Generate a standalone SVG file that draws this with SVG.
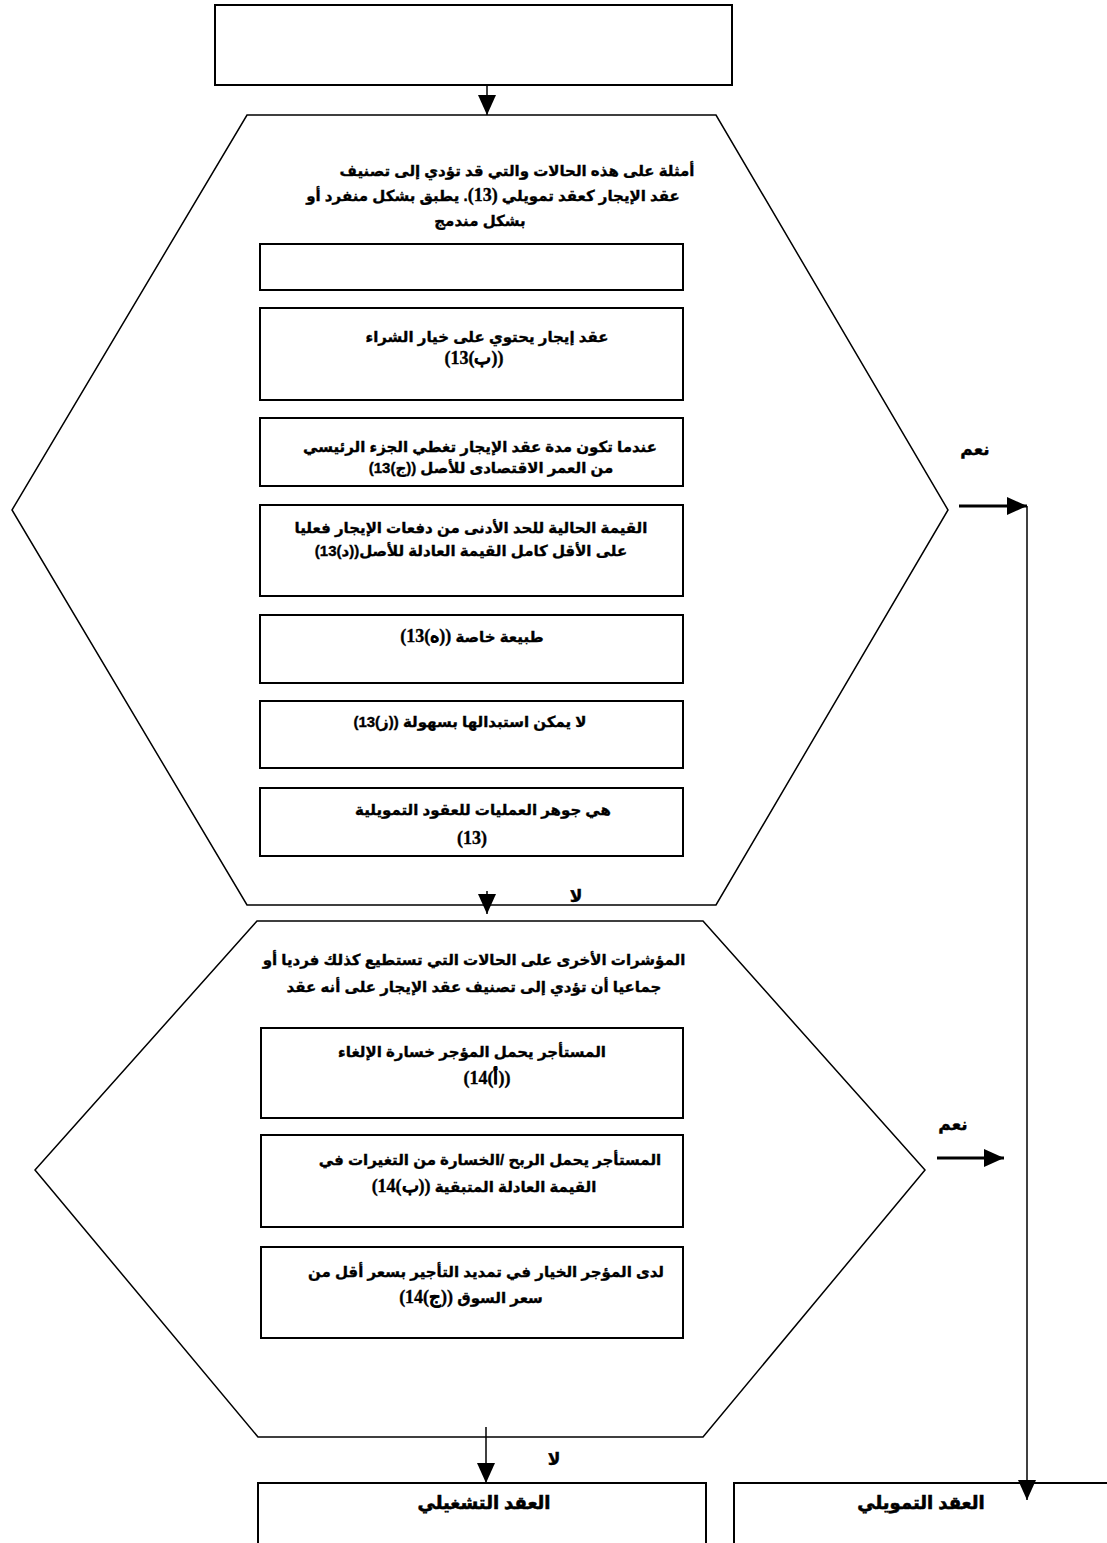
<svg xmlns="http://www.w3.org/2000/svg" width="1107" height="1543" viewBox="0 0 1107 1543">
<style>
.bg{fill:#fff}
.box{fill:#fff;stroke:#000;stroke-width:2}
.hex{fill:#fff;stroke:#000;stroke-width:1.5}
.t{font-family:"Liberation Sans","DejaVu Sans",sans-serif;font-weight:bold;font-size:15px;text-anchor:middle;fill:#000;stroke:#000;stroke-width:0.35}
.s{font-family:"Liberation Serif","DejaVu Serif",serif;font-size:18px}
.lbl{font-family:"Liberation Sans","DejaVu Sans",sans-serif;font-weight:bold;font-size:17px;text-anchor:middle;fill:#000;stroke:#000;stroke-width:0.4}
.big{font-size:18px;stroke-width:0.6}
.ln{stroke:#000;stroke-width:1.5;fill:none}
.thick{stroke:#000;stroke-width:3;fill:none}
</style>
<defs>
<marker id="ah" viewBox="0 0 20 18" refX="20" refY="9" markerWidth="20" markerHeight="18" orient="auto" markerUnits="userSpaceOnUse">
<path d="M0,0 L20,9 L0,18 z" fill="#000"/>
</marker>
</defs>
<rect class="bg" x="0" y="0" width="1107" height="1543"/>

<g id="start">
<rect class="box" x="215" y="5" width="517" height="80"/>
</g>

<g id="hex1">
<polygon class="hex" points="247,115 716,115 948,510 716,905 247,905 12,510"/>
<text class="t" direction="rtl" x="517" y="176">أمثلة على هذه الحالات والتي قد تؤدي إلى تصنيف</text>
<text class="t" direction="rtl" x="493" y="201">عقد الإيجار كعقد تمويلي <tspan class="s">(13)</tspan>. يطبق بشكل منفرد أو</text>
<text class="t" direction="rtl" x="480" y="226">بشكل مندمج</text>
</g>

<g id="b0"><rect class="box" x="260" y="244" width="423" height="46"/></g>
<g id="b1"><rect class="box" x="260" y="308" width="423" height="92"/>
<text class="t" direction="rtl" x="487" y="342">عقد إيجار يحتوي على خيار الشراء</text>
<text class="t s" direction="ltr" x="474" y="364">&#x202D;(13(ب))&#x202C;</text></g>
<g id="b2"><rect class="box" x="260" y="418" width="423" height="68"/>
<text class="t" direction="rtl" x="480" y="452">عندما تكون مدة عقد الإيجار تغطي الجزء الرئيسي</text>
<text class="t" direction="rtl" x="491" y="473">من العمر الاقتصادى للأصل &#x202D;(13(ج))&#x202C;</text></g>
<g id="b3"><rect class="box" x="260" y="505" width="423" height="91"/>
<text class="t" direction="rtl" x="471" y="533">القيمة الحالية للحد الأدنى من دفعات الإيجار فعليا</text>
<text class="t" direction="rtl" x="471" y="556">على الأقل كامل القيمة العادلة للأصل&#x202D;(13(د))&#x202C;</text></g>
<g id="b4"><rect class="box" x="260" y="615" width="423" height="68"/>
<text class="t" direction="rtl" x="472" y="642">طبيعة خاصة <tspan class="s">&#x202D;(13(ه))&#x202C;</tspan></text></g>
<g id="b5"><rect class="box" x="260" y="701" width="423" height="67"/>
<text class="t" direction="rtl" x="470" y="727">لا يمكن استبدالها بسهولة &#x202D;(13(ز))&#x202C;</text></g>
<g id="b6"><rect class="box" x="260" y="788" width="423" height="68"/>
<text class="t" direction="rtl" x="483" y="815">هي جوهر العمليات للعقود التمويلية</text>
<text class="t s" direction="ltr" x="472" y="844">(13)</text></g>

<g id="hex2">
<polygon class="hex" points="257,921 703,921 925,1170 703,1437 258,1437 35,1170"/>
<text class="t" direction="rtl" x="474" y="965">المؤشرات الأخرى على الحالات التي تستطيع كذلك فرديا أو</text>
<text class="t" direction="rtl" x="474" y="992">جماعيا أن تؤدي إلى تصنيف عقد الإيجار على أنه عقد</text>
</g>

<g id="bA"><rect class="box" x="261" y="1028" width="422" height="90"/>
<text class="t" direction="rtl" x="472" y="1057">المستأجر يحمل المؤجر خسارة الإلغاء</text>
<text class="t s" direction="ltr" x="487" y="1084">&#x202D;(14(أ))&#x202C;</text></g>
<g id="bB"><rect class="box" x="261" y="1135" width="422" height="92"/>
<text class="t" direction="rtl" x="490" y="1165">المستأجر يحمل الربح /الخسارة من التغيرات في</text>
<text class="t" direction="rtl" x="484" y="1192">القيمة العادلة المتبقية <tspan class="s">&#x202D;(14(ب))&#x202C;</tspan></text></g>
<g id="bC"><rect class="box" x="261" y="1247" width="422" height="91"/>
<text class="t" direction="rtl" x="486" y="1277">لدى المؤجر الخيار في تمديد التأجير بسعر أقل من</text>
<text class="t" direction="rtl" x="471" y="1303">سعر السوق <tspan class="s">&#x202D;(14(ج))&#x202C;</tspan></text></g>

<g id="operating"><rect class="box" x="258" y="1483" width="448" height="90"/>
<text class="lbl big" direction="rtl" x="484" y="1509">العقد التشغيلي</text></g>
<g id="finance"><rect class="box" x="734" y="1483" width="420" height="90"/>
<text class="lbl big" direction="rtl" x="921" y="1509">العقد التمويلي</text></g>

<g id="connectors">
<line class="ln" x1="487" y1="85" x2="487" y2="115" marker-end="url(#ah)"/>
<line class="ln" x1="487" y1="891" x2="487" y2="914" marker-end="url(#ah)"/>
<line class="thick" x1="959" y1="506" x2="1027" y2="506" marker-end="url(#ah)"/>
<line class="ln" x1="1027" y1="506" x2="1027" y2="1500" marker-end="url(#ah)"/>
<line class="thick" x1="937" y1="1158" x2="1004" y2="1158" marker-end="url(#ah)"/>
<line class="ln" x1="486" y1="1427" x2="486" y2="1483" marker-end="url(#ah)"/>
<text class="lbl" direction="rtl" x="975" y="455">نعم</text>
<text class="lbl" direction="rtl" x="953" y="1130">نعم</text>
<text class="lbl" direction="rtl" x="576" y="902">لا</text>
<text class="lbl" direction="rtl" x="554" y="1465">لا</text>
</g>
</svg>
